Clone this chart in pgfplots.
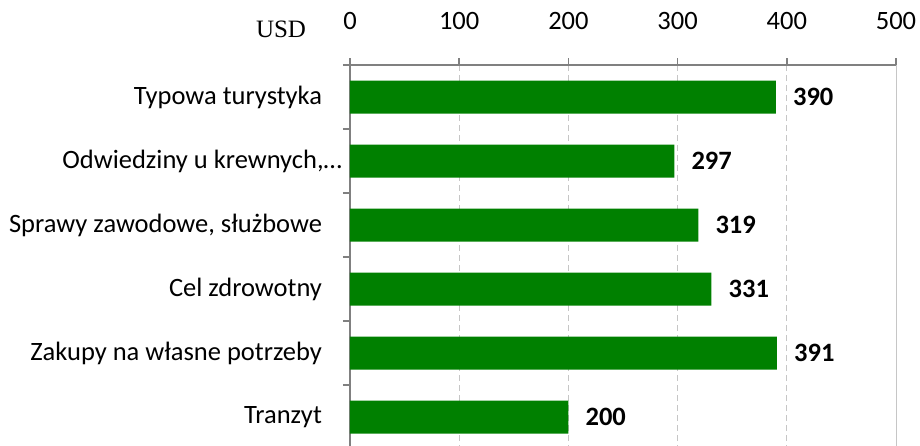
\documentclass[border=0pt]{standalone}
\usepackage{pgfplots}
\pgfplotsset{compat=1.18}
\usepackage{fontspec}
\setmainfont{Carlito}
\newfontfamily\serif{Liberation Serif}
\definecolor{bargreen}{RGB}{0,128,0}
\begin{document}
\fontsize{26.5}{31}\selectfont
\begin{tikzpicture}
\begin{axis}[
  name=ax,
  scale only axis,
  width=546pt, height=384pt,
  xbar, bar width=33pt,
  xmin=0, xmax=500,
  ymin=-0.5, ymax=5.5, y dir=reverse,
  axis x line*=top, axis y line*=left,
  axis line style={draw=gray, line width=1.5pt},
  /pgf/number format/assume math mode=true,
  tick label style={font=\fontsize{26.5}{31}\selectfont},
  xtick={0,100,200,300,400},
  extra x ticks={500},
  extra x tick style={grid style={solid, draw=gray!45, line width=1pt}},
  xmajorgrids,
  grid style={draw=gray!45, line width=1pt, dash pattern=on 6pt off 4pt},
  tick align=outside,
  major tick length=7pt, minor tick length=7pt,
  tick style={draw=gray, line width=1.5pt},
  ytick={0,...,5},
  yticklabels={Typowa turystyka, {Odwiedziny u krewnych,…\hspace*{-20pt}}, {Sprawy zawodowe, służbowe}, Cel zdrowotny, Zakupy na własne potrzeby, Tranzyt},
  major y tick style={draw=none},
  minor ytick={-0.5,0.5,...,5.5},
  yticklabel style={xshift=-12pt},
  xticklabel style={yshift=19pt},
  nodes near coords,
  nodes near coords style={anchor=west, inner sep=0pt, xshift=17pt, font=\bfseries\fontsize{26.5}{31}\selectfont, text=black},
]
\addplot[fill=bargreen, draw=none] coordinates {
  (390,0) (297,1) (319,2) (331,3) (391,4) (200,5)
};
\end{axis}
\node[font=\serif\fontsize{25}{29}\selectfont, anchor=base west] at ([shift={(-103pt,27pt)}]ax.north west) {USD};
\pgfresetboundingbox
\path ([shift={(-350pt,4pt)}]ax.south west) rectangle ([shift={(24pt,65pt)}]ax.north east);
\end{tikzpicture}
\end{document}
